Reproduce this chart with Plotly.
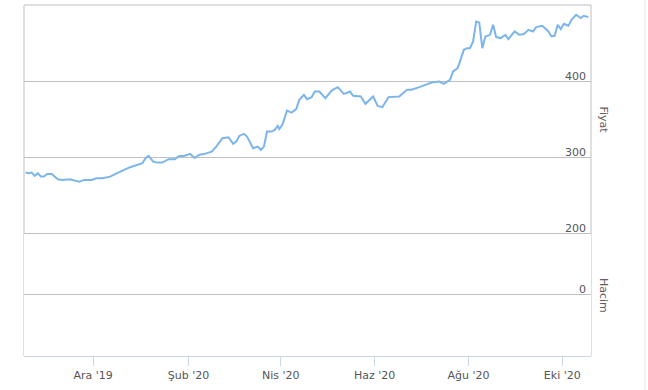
import plotly.graph_objects as go

dates = [
    "2019-10-18", "2019-10-20", "2019-10-22", "2019-10-24", "2019-10-26", "2019-10-28", "2019-10-30",
    "2019-11-01", "2019-11-04", "2019-11-06", "2019-11-08", "2019-11-11", "2019-11-16", "2019-11-19",
    "2019-11-22", "2019-11-25", "2019-11-30", "2019-12-03", "2019-12-07", "2019-12-12", "2019-12-16",
    "2019-12-20", "2019-12-25", "2019-12-29", "2020-01-02", "2020-01-04", "2020-01-06", "2020-01-09",
    "2020-01-12", "2020-01-15", "2020-01-17", "2020-01-19", "2020-01-23", "2020-01-26", "2020-01-29",
    "2020-02-02", "2020-02-05", "2020-02-08", "2020-02-11", "2020-02-16", "2020-02-19", "2020-02-21",
    "2020-02-23", "2020-02-27", "2020-03-01", "2020-03-03", "2020-03-05", "2020-03-08", "2020-03-10",
    "2020-03-14", "2020-03-17", "2020-03-19", "2020-03-21", "2020-03-23", "2020-03-26", "2020-03-28",
    "2020-03-30", "2020-03-31", "2020-04-02", "2020-04-05", "2020-04-08", "2020-04-11", "2020-04-13",
    "2020-04-16", "2020-04-18", "2020-04-21", "2020-04-23", "2020-04-26", "2020-04-30", "2020-05-04",
    "2020-05-08", "2020-05-12", "2020-05-16", "2020-05-18", "2020-05-21", "2020-05-23", "2020-05-26",
    "2020-05-31", "2020-06-03", "2020-06-06", "2020-06-10", "2020-06-17", "2020-06-22", "2020-06-25",
    "2020-06-30", "2020-07-08", "2020-07-13", "2020-07-16", "2020-07-20", "2020-07-22", "2020-07-25",
    "2020-07-29", "2020-07-31", "2020-08-02", "2020-08-04", "2020-08-06", "2020-08-08", "2020-08-10",
    "2020-08-12", "2020-08-15", "2020-08-17", "2020-08-19", "2020-08-22", "2020-08-25", "2020-08-27",
    "2020-08-31", "2020-09-03", "2020-09-06", "2020-09-09", "2020-09-12", "2020-09-14", "2020-09-18",
    "2020-09-22", "2020-09-24", "2020-09-26", "2020-09-28", "2020-09-30", "2020-10-02", "2020-10-05",
    "2020-10-07", "2020-10-10", "2020-10-13", "2020-10-15", "2020-10-18",
]
prices = [
    280.7, 279.9, 280.7, 276.3, 279.9, 275.4, 275.4,
    278.9, 278.9, 275.4, 272.0, 271.1, 272.0, 270.1,
    268.8, 271.1, 271.1, 273.3, 273.3, 275.4, 279.9,
    283.3, 287.8, 290.8, 293.0, 299.6, 302.6, 295.1,
    293.8, 293.8, 295.7, 298.3, 298.3, 302.6, 302.6,
    305.3, 300.0, 304.3, 305.0, 308.3, 314.9, 320.1,
    325.9, 327.2, 318.4, 321.4, 328.9, 331.6, 328.0,
    312.8, 314.9, 310.5, 314.9, 334.6, 334.6, 336.8,
    342.1, 337.8, 343.4, 362.2, 359.6, 364.1, 376.3,
    382.9, 377.2, 379.9, 387.2, 387.2, 378.6, 388.6,
    393.0, 384.2, 387.2, 381.6, 380.7, 380.7, 371.1,
    380.7, 368.4, 366.7, 379.9, 380.7, 389.5, 389.5,
    393.0, 399.1, 400.4, 397.4, 402.6, 413.6, 418.0,
    442.1, 444.3, 444.3, 453.0, 479.3, 478.0, 444.3,
    459.6, 461.8, 475.0, 458.8, 457.5, 461.8, 456.2,
    466.2, 461.8, 462.8, 468.4, 466.2, 472.0, 473.7,
    466.2, 459.6, 460.5, 475.0, 469.3, 476.3, 473.7,
    481.6, 488.2, 483.8, 486.8, 485.1,
]

month_ticks = ["2019-12-01", "2020-02-01", "2020-04-01", "2020-06-01", "2020-08-01", "2020-10-01"]
month_labels = ["Ara '19", "Şub '20", "Nis '20", "Haz '20", "Ağu '20", "Eki '20"]
price_ticks = [200, 300, 400]
volume_ticks = [0]

FONT = "DejaVu Sans"
GRID = "#c0c0c0"
LABEL = "#555555"

fig = go.Figure()
fig.add_trace(go.Scatter(
    x=dates, y=prices, mode="lines", name="Fiyat",
    line=dict(color="#7cb5ec", width=2), yaxis="y",
))
fig.add_trace(go.Bar(x=[], y=[], name="Hacim", yaxis="y2"))

price_dom = [0.3433, 1.0]
vol_dom = [0.0, 0.3476]

fig.update_layout(
    width=648, height=390,
    margin=dict(l=24, r=57, t=5, b=34, autoexpand=False),
    paper_bgcolor="white", plot_bgcolor="white",
    showlegend=False,
    font=dict(family=FONT, size=11, color=LABEL),
    xaxis=dict(
        type="date", range=["2019-10-17", "2020-10-19 16:00"],
        tickvals=month_ticks, ticktext=month_labels,
        ticks="outside", ticklen=9, tickcolor="#ccd6eb", tickwidth=1,
        showline=True, linecolor="#ccd6eb", linewidth=1,
        showgrid=False, zeroline=False,
        tickfont=dict(family=FONT, size=11, color=LABEL),
        anchor="y2",
    ),
    yaxis=dict(
        domain=price_dom, range=[198, 501], side="right",
        tickvals=price_ticks, ticklabelposition="inside",
        ticklabelshift=-6, ticklabelstandoff=2, ticks="",
        showgrid=True, gridcolor=GRID, gridwidth=1,
        zeroline=False, showline=False,
        tickfont=dict(family=FONT, size=11, color=LABEL),
        anchor="x",
    ),
    yaxis2=dict(
        domain=vol_dom, range=[-1, 1], side="right",
        tickvals=volume_ticks, ticklabelposition="inside",
        ticklabelshift=-6, ticklabelstandoff=2, ticks="",
        showgrid=True, gridcolor=GRID, gridwidth=1,
        zeroline=False, showline=False,
        tickfont=dict(family=FONT, size=11, color=LABEL),
        anchor="x",
    ),
    shapes=[
        dict(type="rect", xref="paper", yref="paper", x0=0, x1=1, y0=0, y1=1,
             line=dict(color=GRID, width=1), layer="below"),
        dict(type="line", xref="paper", yref="paper", x0=1.0952, x1=1.0952, y0=-0.1, y1=1.1,
             line=dict(color="#e6e6e6", width=1)),
    ],
    annotations=[
        dict(text="Fiyat", xref="paper", yref="paper", x=1.0212, y=0.6738,
             textangle=90, showarrow=False, xanchor="center", yanchor="middle",
             font=dict(family=FONT, size=11, color="#6a5a5a")),
        dict(text="Hacim", xref="paper", yref="paper", x=1.0212, y=0.1738,
             textangle=90, showarrow=False, xanchor="center", yanchor="middle",
             font=dict(family=FONT, size=11, color="#6a5a5a")),
    ],
)

fig.write_html("out.html")
